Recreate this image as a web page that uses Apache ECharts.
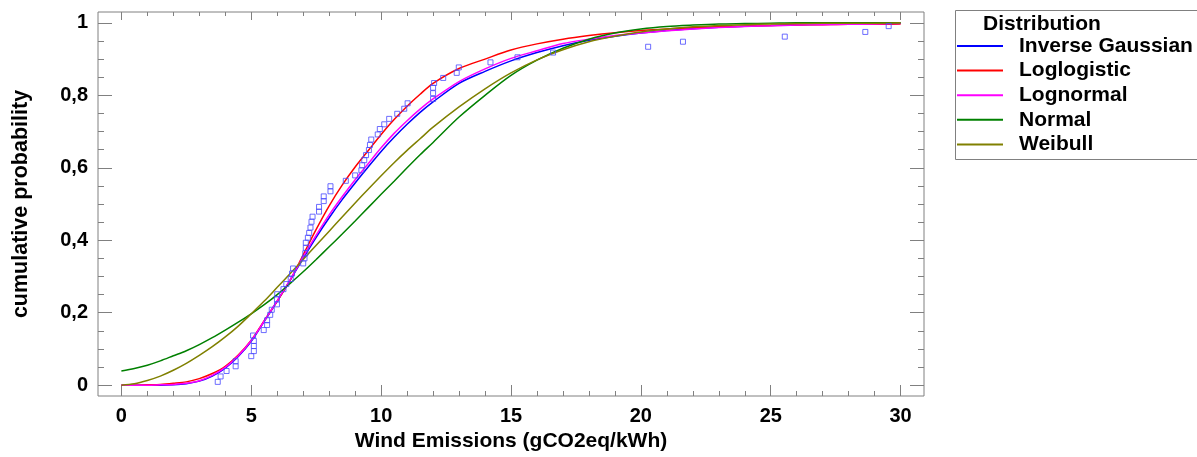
<!DOCTYPE html>
<html>
<head>
<meta charset="utf-8">
<script src="https://cdn.jsdelivr.net/npm/echarts@6/dist/echarts.min.js"></script>
<style>
  html, body { margin: 0; padding: 0; background: #fff; }
  #main { width: 1197px; height: 457px; }
</style>
</head>
<body>
<div id="main"></div>
<script>
// x positions where the fitted curves were read
var curveX = [0, 0.5, 1, 1.5, 2, 2.5, 3, 3.5, 4, 4.5, 5, 5.5, 6, 6.5, 7, 7.5, 8, 8.5, 9, 9.5,
              10, 10.5, 11, 11.5, 12, 13, 14, 15, 16, 17, 18, 19, 20, 21, 22, 23, 24, 25, 26, 27, 28, 29, 30];

var invGauss = [0, 0, 0, 0, 0.001, 0.004, 0.011, 0.025, 0.047, 0.079, 0.121, 0.176, 0.232, 0.29, 0.35, 0.408, 0.462, 0.512, 0.558, 0.602,
                0.645, 0.684, 0.72, 0.753, 0.782, 0.833, 0.866, 0.895, 0.918, 0.937, 0.952, 0.963, 0.972, 0.979, 0.984, 0.988, 0.991, 0.993, 0.995, 0.996, 0.997, 0.998, 0.999];
var logLogistic = [0, 0, 0.001, 0.002, 0.005, 0.009, 0.018, 0.032, 0.052, 0.083, 0.124, 0.178, 0.232, 0.29, 0.36, 0.43, 0.495, 0.552, 0.602, 0.647,
                   0.692, 0.733, 0.77, 0.803, 0.833, 0.874, 0.9, 0.925, 0.942, 0.955, 0.965, 0.973, 0.979, 0.983, 0.987, 0.989, 0.991, 0.993, 0.994, 0.995, 0.996, 0.996, 0.997];
var logNormal = [0, 0, 0, 0.001, 0.002, 0.005, 0.012, 0.027, 0.049, 0.081, 0.123, 0.177, 0.233, 0.291, 0.354, 0.414, 0.47, 0.52, 0.567, 0.611,
                 0.655, 0.695, 0.73, 0.762, 0.79, 0.838, 0.873, 0.902, 0.923, 0.943, 0.955, 0.965, 0.972, 0.978, 0.983, 0.987, 0.99, 0.992, 0.994, 0.995, 0.996, 0.997, 0.998];
var normal = [0.039, 0.046, 0.055, 0.067, 0.081, 0.095, 0.112, 0.131, 0.152, 0.174, 0.197, 0.222, 0.25, 0.281, 0.313, 0.347, 0.382, 0.417, 0.453, 0.49,
              0.527, 0.563, 0.6, 0.636, 0.67, 0.74, 0.8, 0.855, 0.897, 0.93, 0.955, 0.972, 0.983, 0.99, 0.994, 0.997, 0.998, 0.999, 1, 1, 1, 1, 1];
var weibull = [0, 0.004, 0.013, 0.025, 0.041, 0.06, 0.082, 0.106, 0.133, 0.163, 0.197, 0.232, 0.27, 0.308, 0.347, 0.386, 0.425, 0.464, 0.503, 0.541,
               0.578, 0.614, 0.648, 0.68, 0.712, 0.768, 0.818, 0.862, 0.898, 0.926, 0.948, 0.963, 0.975, 0.983, 0.989, 0.993, 0.995, 0.997, 0.998, 0.999, 0.999, 0.999, 1];

// observed data (blue squares)
var pointX = [3.71, 3.82, 4.05, 4.40, 4.40, 5.00, 5.10, 5.10, 5.10, 5.07, 5.48, 5.61, 5.61, 5.73, 5.79, 5.99, 5.99, 6.00, 6.24, 6.35,
              6.52, 6.57, 6.61, 7.00, 7.05, 7.08, 7.10, 7.10, 7.18, 7.23, 7.28, 7.32, 7.36, 7.61, 7.61, 7.79, 7.79, 8.05, 8.05, 8.64,
              9.00, 9.24, 9.27, 9.35, 9.42, 9.53, 9.57, 9.62, 9.87, 9.95, 10.12, 10.31, 10.62, 10.89, 11.02, 12.00, 12.00, 12.00, 12.04, 12.39,
              12.91, 12.99, 14.21, 15.25, 16.62, 20.28, 21.62, 25.54, 28.64, 29.54];
var pointY = [0.009, 0.024, 0.039, 0.052, 0.066, 0.080, 0.094, 0.108, 0.122, 0.137, 0.152, 0.166, 0.179, 0.194, 0.208, 0.223, 0.237, 0.251, 0.265, 0.279,
              0.293, 0.308, 0.322, 0.336, 0.350, 0.364, 0.379, 0.393, 0.407, 0.420, 0.435, 0.451, 0.465, 0.479, 0.492, 0.508, 0.521, 0.535, 0.549, 0.564,
              0.579, 0.593, 0.607, 0.621, 0.635, 0.649, 0.663, 0.678, 0.692, 0.707, 0.720, 0.735, 0.749, 0.763, 0.778, 0.790, 0.806, 0.821, 0.834, 0.848,
              0.862, 0.877, 0.891, 0.905, 0.918, 0.934, 0.948, 0.962, 0.975, 0.991];

var xMajor = [0, 5, 10, 15, 20, 25, 30];
var xMinor = [0, 1, 2, 3, 4, 5, 6, 7, 8, 9, 10, 11, 12, 13, 14, 15, 16, 17, 18, 19, 20, 21, 22, 23, 24, 25, 26, 27, 28, 29, 30];
var yMajor = [0, 0.2, 0.4, 0.6, 0.8, 1];
var yMinor = [0, 0.05, 0.1, 0.15, 0.2, 0.25, 0.3, 0.35, 0.4, 0.45, 0.5, 0.55, 0.6, 0.65, 0.7, 0.75, 0.8, 0.85, 0.9, 0.95, 1];

var names = ['Inverse Gaussian', 'Loglogistic', 'Lognormal', 'Normal', 'Weibull'];
var colors = ['#0000ff', '#ff0000', '#ff00ff', '#008000', '#808000'];
var curves = [invGauss, logLogistic, logNormal, normal, weibull];

var font = 'Liberation Sans, Arial, sans-serif';
var tickColor = '#808080';

function pairs(xs, ys) {
    var out = [];
    for (var i = 0; i < xs.length; i++) out.push([xs[i], ys[i]]);
    return out;
}

function xAx(pos, ticks, len, labels) {
    return {
        type: 'value', position: pos, min: -0.9, max: 30.9,
        axisLine: { show: false, onZero: false },
        splitLine: { show: false },
        axisTick: { show: true, inside: true, length: len, customValues: ticks,
                    lineStyle: { color: tickColor, width: 1 } },
        axisLabel: labels ? { show: true, customValues: xMajor, margin: 10,
                              color: '#000', fontFamily: font, fontWeight: 'bold', fontSize: 20 }
                          : { show: false }
    };
}
function yAx(pos, ticks, len, labels) {
    return {
        type: 'value', position: pos, min: -0.03, max: 1.03,
        axisLine: { show: false, onZero: false },
        splitLine: { show: false },
        axisTick: { show: true, inside: true, length: len, customValues: ticks,
                    lineStyle: { color: tickColor, width: 1 } },
        axisLabel: labels ? { show: true, customValues: yMajor, margin: 10,
                              color: '#000', fontFamily: font, fontWeight: 'bold', fontSize: 20,
                              formatter: function (v) { return String(v).replace('.', ','); } }
                          : { show: false }
    };
}

var xAxes = [xAx('bottom', xMajor, 11, true), xAx('bottom', xMinor, 5, false),
             xAx('top', xMajor, 8, false), xAx('top', xMinor, 4, false)];
xAxes[0].name = 'Wind Emissions (gCO2eq/kWh)';
xAxes[0].nameLocation = 'middle';
xAxes[0].nameGap = 33;
xAxes[0].nameTextStyle = { color: '#000', fontFamily: font, fontWeight: 'bold', fontSize: 21 };

var yAxes = [yAx('left', yMajor, 14, true), yAx('left', yMinor, 6, false),
             yAx('right', yMajor, 14, false), yAx('right', yMinor, 6, false)];
yAxes[0].name = 'cumulative probability';
yAxes[0].nameLocation = 'middle';
yAxes[0].nameGap = 66;
yAxes[0].nameTextStyle = { color: '#000', fontFamily: font, fontWeight: 'bold', fontSize: 21.5 };

var series = [];
for (var i = 0; i < names.length; i++) {
    series.push({
        name: names[i],
        type: 'line',
        data: pairs(curveX, curves[i]),
        smooth: 0.3,
        symbol: 'none',
        lineStyle: { color: colors[i], width: 1.5 },
        itemStyle: { color: colors[i] }
    });
}
series.push({
    name: 'data',
    type: 'scatter',
    data: pairs(pointX, pointY),
    symbol: 'rect',
    symbolSize: 5,
    itemStyle: { color: 'rgba(255,255,255,0)', borderColor: '#4848ff', borderWidth: 1 },
    z: 5
});

var chart = echarts.init(document.getElementById('main'));
chart.setOption({
    animation: false,
    backgroundColor: '#fff',
    grid: { left: 98, top: 12, right: 273, bottom: 61, show: true,
            borderColor: tickColor, borderWidth: 1, backgroundColor: '#fff' },
    xAxis: xAxes,
    yAxis: yAxes,
    title: {
        text: 'Distribution', left: 978, top: 9,
        textStyle: { color: '#000', fontFamily: font, fontWeight: 'bold', fontSize: 21 }
    },
    legend: {
        data: names,
        orient: 'vertical',
        left: 957, top: 34,
        itemWidth: 46, itemHeight: 2, itemGap: 0.6,
        icon: 'rect',
        padding: 0,
        textStyle: { color: '#000', fontFamily: font, fontWeight: 'bold', fontSize: 21,
                     lineHeight: 24, padding: [0, 0, 0, 11] }
    },
    graphic: [{
        type: 'rect', left: 953, top: 8,
        shape: { width: 243, height: 149 },
        style: { fill: 'none', stroke: tickColor, lineWidth: 1 }
    }],
    series: series
});
</script>
</body>
</html>
